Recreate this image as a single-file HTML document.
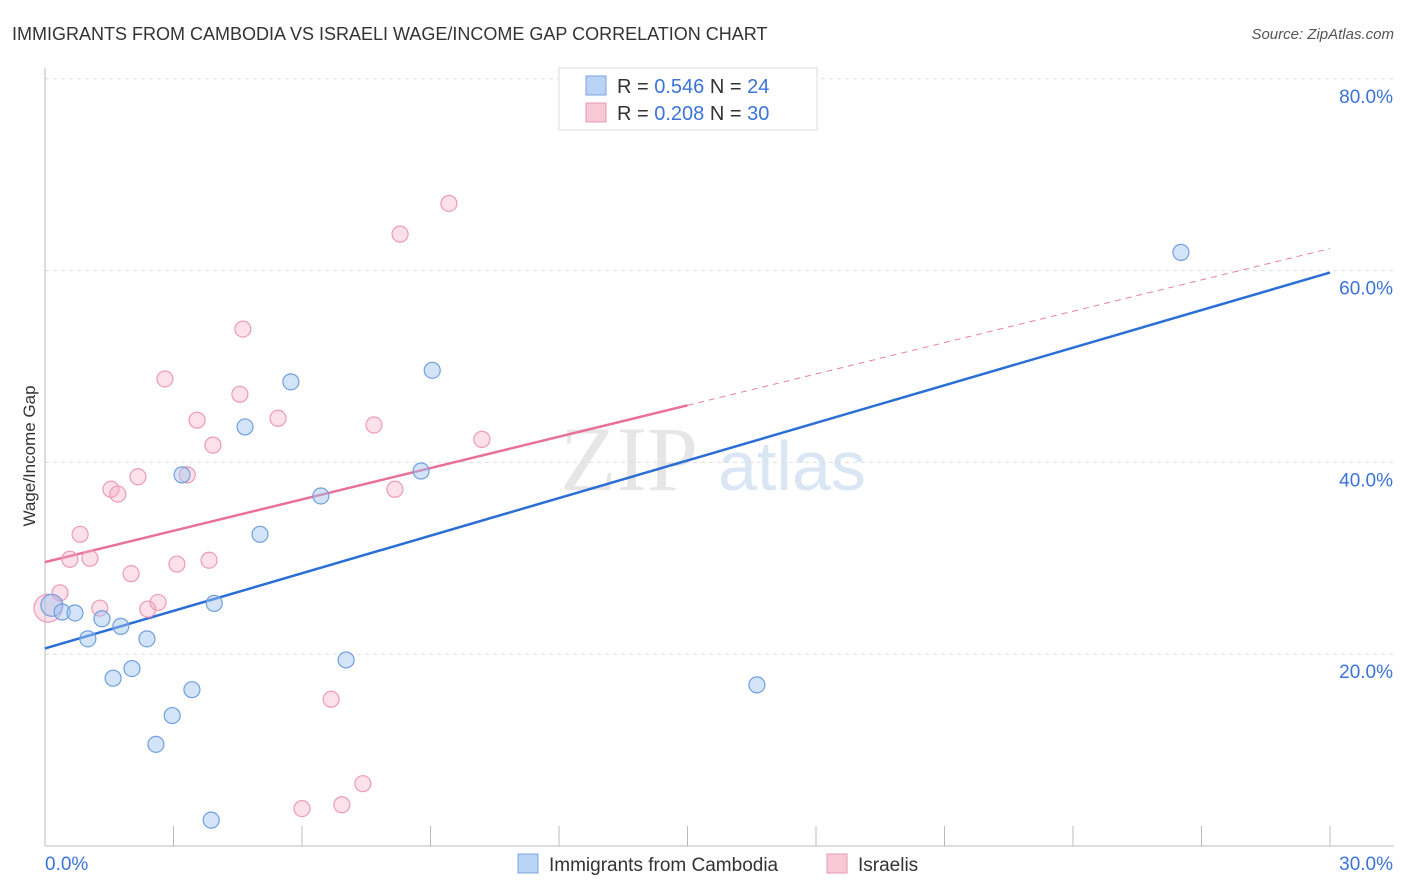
<!DOCTYPE html>
<html><head><meta charset="utf-8"><style>
body{margin:0;background:#fff;font-family:"Liberation Sans",sans-serif}
</style></head><body>
<svg id="c" width="1406" height="892" xmlns="http://www.w3.org/2000/svg" style="display:block;font-family:'Liberation Sans',sans-serif">
<text x="12" y="40" font-size="18" fill="#333">IMMIGRANTS FROM CAMBODIA VS ISRAELI WAGE/INCOME GAP CORRELATION CHART</text>
<text x="1394" y="39" font-size="15" fill="#555" font-style="italic" text-anchor="end">Source: ZipAtlas.com</text>
<text x="560" y="490" font-size="92" fill="#e6e6e6" font-family="Liberation Serif">ZIP</text>
<text x="718" y="490" font-size="70" fill="#dbe6f5">atlas</text>
<g id="grid"></g><g id="axes"></g><g id="lines"></g><g id="pts"></g>
<text x="35" y="456" font-size="17" fill="#333" text-anchor="middle" transform="rotate(-90 35 456)">Wage/Income Gap</text>
<g>
<rect x="559" y="68" width="258" height="62" fill="#fff" stroke="#ddd"/>
<rect x="586" y="76" width="20" height="19" fill="#b9d3f5" stroke="#7aa6e0"/>
<text x="617" y="93" font-size="20" fill="#333">R = <tspan fill="#3b73d9">0.546</tspan>   N = <tspan fill="#3b73d9">24</tspan></text>
<rect x="586" y="103" width="20" height="19" fill="#f9c8d7" stroke="#e898b0"/>
<text x="617" y="120" font-size="20" fill="#333">R = <tspan fill="#3b73d9">0.208</tspan>   N = <tspan fill="#3b73d9">30</tspan></text>
</g>
<g>
<rect x="518" y="854" width="20" height="19" fill="#b9d3f5" stroke="#7aa6e0"/>
<text x="549" y="871" font-size="19" fill="#333">Immigrants from Cambodia</text>
<rect x="827" y="854" width="20" height="19" fill="#f9c8d7" stroke="#e898b0"/>
<text x="858" y="871" font-size="19" fill="#333">Israelis</text>
</g>
</svg>
<script>
const blueX=[0.16,0.40,0.70,1.00,1.33,1.59,1.77,2.03,2.38,2.59,2.97,3.20,3.43,3.88,3.95,4.67,5.02,5.74,6.44,7.03,8.78,9.04,16.62,26.52];
const blueY=[25.1,24.4,24.3,21.6,23.7,17.5,22.9,18.5,21.6,10.6,13.6,38.7,16.3,2.7,25.3,43.7,32.5,48.4,36.5,19.4,39.1,49.6,16.8,61.9];
const pinkX=[0.07,0.35,0.58,0.82,1.05,1.28,1.54,1.70,2.01,2.17,2.40,2.64,2.80,3.08,3.32,3.55,3.83,3.92,4.55,4.62,5.44,6.00,6.68,6.93,7.42,7.68,8.17,8.29,9.43,10.20];
const pinkY=[24.8,26.4,29.9,32.5,30.0,24.8,37.2,36.7,28.4,38.5,24.7,25.4,48.7,29.4,38.7,44.4,29.8,41.8,47.1,53.9,44.6,3.9,15.3,4.3,6.5,43.9,37.2,63.8,67.0,42.4];
const yTicks=[20,40,60,80];
const yTickLabels=["20.0%","40.0%","60.0%","80.0%"];
const xTickLabels=["0.0%","30.0%"];
const blueTrend=[20.6,59.8];
const pinkTrend=[29.6,62.3];
const pinkSolidEnd=15;
const X=v=>45+v*(1285/30), Y=v=>846-v*9.59;
const NS="http://www.w3.org/2000/svg";
function mk(p,t,a){const e=document.createElementNS(NS,t);for(const k in a)e.setAttribute(k,a[k]);document.getElementById(p).appendChild(e);return e;}
yTicks.forEach((t,i)=>{
 const l=mk('grid','line',{x1:45,x2:1394,y1:Y(t),y2:Y(t),stroke:'#ddd','stroke-dasharray':'4,4'});
 
 
 const tx=mk('grid','text',{x:1393,y:Y(t)+24,'font-size':19,fill:'#3b73d9','text-anchor':'end'});
 tx.textContent=yTickLabels[i];
 
 
});
const ax=mk('axes','line',{x1:45,x2:1394,y1:846,y2:846,stroke:'#bbb'});


const ay=mk('axes','line',{x1:45,x2:45,y1:68,y2:846,stroke:'#bbb'});


for(let i=0;i<=10;i++){const t=mk('axes','line',{x1:X(i*3),x2:X(i*3),y1:826,y2:846,stroke:'#bbb'});
 
 }
[[0,'start',45],[30,'end',1393]].forEach((d,i)=>{const t=mk('axes','text',{x:d[2],y:870,'font-size':19,fill:'#3b73d9','text-anchor':d[1]});t.textContent=xTickLabels[i];
 
 });
const pv=x=>pinkTrend[0]+(pinkTrend[1]-pinkTrend[0])*x/30;
let l=mk('lines','line',{x1:X(pinkSolidEnd),y1:Y(pv(pinkSolidEnd)),x2:X(30),y2:Y(pinkTrend[1]),stroke:'#e8809f','stroke-width':1,'stroke-dasharray':'6,5'});


l=mk('lines','line',{x1:X(0),y1:Y(pinkTrend[0]),x2:X(pinkSolidEnd),y2:Y(pv(pinkSolidEnd)),stroke:'#e8709a','stroke-width':2.5});


l=mk('lines','line',{x1:X(0),y1:Y(blueTrend[0]),x2:X(30),y2:Y(blueTrend[1]),stroke:'#2b6fd6','stroke-width':2.5});


pinkX.forEach((x,i)=>{const c=mk('pts','circle',{cx:X(x),cy:Y(pinkY[i]),r:i==0?14:8,fill:'rgba(246,170,195,0.35)',stroke:'#ee9ab5','stroke-width':1.2});
 
 });
blueX.forEach((x,i)=>{const c=mk('pts','circle',{cx:X(x),cy:Y(blueY[i]),r:i==0?11:8,fill:'rgba(160,195,240,0.45)',stroke:'#6f9fe0','stroke-width':1.2});
 
 });
</script>
</body></html>
